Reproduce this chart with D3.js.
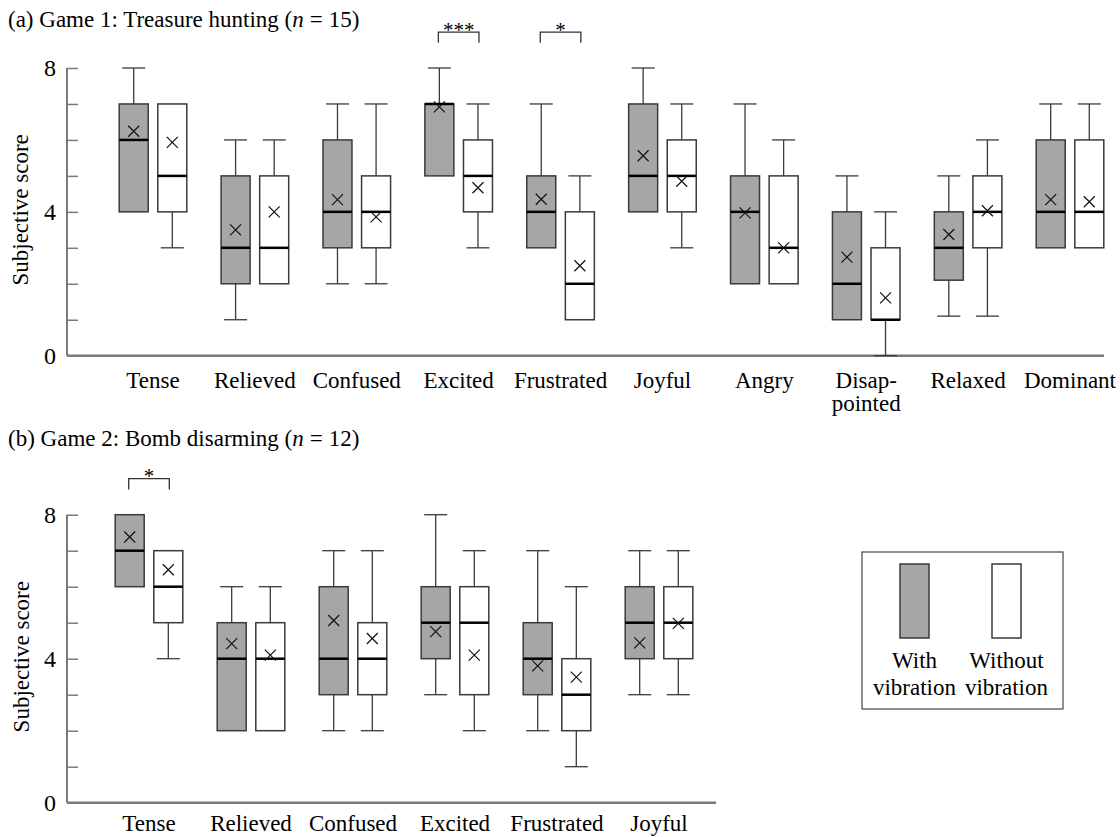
<!DOCTYPE html>
<html>
<head>
<meta charset="utf-8">
<script src="https://cdn.jsdelivr.net/npm/d3@7/dist/d3.min.js"></script>
<style>
  html, body { margin: 0; padding: 0; background: #fff; }
  svg { display: block; }
  text { font-family: "Liberation Serif", "Times New Roman", serif; fill: #000; }
</style>
</head>
<body>
<svg id="chart" width="1120" height="837"></svg>
<script>
// ---------- DATA ----------
const cats1 = ["Tense", "Relieved", "Confused", "Excited", "Frustrated", "Joyful", "Angry", "Disap-\npointed", "Relaxed", "Dominant"];
const g1WithLo   = [4, 1, 2, 5, 3, 4, 2, 1, 1.1, 3];
const g1WithQ1   = [4, 2, 3, 5, 3, 4, 2, 1, 2.1, 3];
const g1WithMed  = [6, 3, 4, 7, 4, 5, 4, 2, 3, 4];
const g1WithQ3   = [7, 5, 6, 7, 5, 7, 5, 4, 4, 6];
const g1WithHi   = [8, 6, 7, 8, 7, 8, 7, 5, 5, 7];
const g1WithMean = [6.24, 3.5, 4.34, 6.92, 4.35, 5.56, 3.97, 2.74, 3.37, 4.34];

const g1WoLo   = [3, 2, 2, 3, 1, 3, 2, 0, 1.1, 3];
const g1WoQ1   = [4, 2, 3, 4, 1, 4, 2, 1, 3, 3];
const g1WoMed  = [5, 3, 4, 5, 2, 5, 3, 1, 4, 4];
const g1WoQ3   = [7, 5, 5, 6, 4, 6, 5, 3, 5, 6];
const g1WoHi   = [7, 6, 7, 7, 5, 7, 6, 4, 6, 7];
const g1WoMean = [5.93, 4.0, 3.86, 4.67, 2.5, 4.85, 3.0, 1.61, 4.03, 4.28];

const cats2 = ["Tense", "Relieved", "Confused", "Excited", "Frustrated", "Joyful"];
const g2WithLo   = [6, 2, 2, 3, 2, 3];
const g2WithQ1   = [6, 2, 3, 4, 3, 4];
const g2WithMed  = [7, 4, 4, 5, 4, 5];
const g2WithQ3   = [8, 5, 6, 6, 5, 6];
const g2WithHi   = [8, 6, 7, 8, 7, 7];
const g2WithMean = [7.38, 4.42, 5.06, 4.75, 3.8, 4.44];

const g2WoLo   = [4, 2, 2, 2, 1, 3];
const g2WoQ1   = [5, 2, 3, 3, 2, 4];
const g2WoMed  = [6, 4, 4, 5, 3, 5];
const g2WoQ3   = [7, 5, 5, 6, 4, 6];
const g2WoHi   = [7, 6, 7, 7, 6, 7];
const g2WoMean = [6.47, 4.1, 4.56, 4.1, 3.49, 4.98];

const sig1 = [{cat: "Excited", label: "***"}, {cat: "Frustrated", label: "*"}];
const sig2 = [{cat: "Tense", label: "*"}];

const yTickValues = [0, 1, 2, 3, 4, 5, 6, 7, 8];
const yTickLabels = [0, 4, 8];
const seriesNames = ["With\nvibration", "Without\nvibration"];

// ---------- STYLE ----------
const FONT = 23;
const withFill = "#a6a6a6";
const woFill = "#ffffff";
const boxStroke = "#3a3a3a";
const axisColor = "#7a7a7a";

const svg = d3.select("#chart");

function build(cols) {
  return cols[0].map((_, i) => ({lo: cols[0][i], q1: cols[1][i], med: cols[2][i], q3: cols[3][i], hi: cols[4][i], mean: cols[5][i]}));
}

function panel(opts) {
  const {cats, withD, woD, sig, xRange, axisRight, yRange, title, titleY, ylabelX, labelOff, starOff} = opts;
  const g = svg.append("g");
  const x = d3.scalePoint().domain(cats).range(xRange);
  const y = d3.scaleLinear().domain([0, 8]).range(yRange);
  const axisLeft = 67;
  const offset = 19.3, bw = 29, capW = 23;

  // title
  const t = g.append("text").attr("x", 8).attr("y", titleY).attr("font-size", FONT);
  const parts = title.split("|");
  t.append("tspan").text(parts[0]);
  t.append("tspan").attr("font-style", "italic").text("n");
  t.append("tspan").attr("dx", 6).text("=");
  t.append("tspan").attr("dx", 6).text(parts[1]);

  // y axis
  const yAxis = d3.axisRight(y).tickValues(yTickValues).tickSize(11).tickFormat("");
  const ya = g.append("g").attr("transform", `translate(${axisLeft},0)`).call(yAxis);
  ya.select(".domain").remove();
  ya.selectAll(".tick line").attr("stroke", axisColor).attr("stroke-width", 1.5);
  g.append("line").attr("x1", axisLeft).attr("x2", axisLeft).attr("y1", y(8)).attr("y2", y(0))
    .attr("stroke", axisColor).attr("stroke-width", 2);
  g.append("line").attr("x1", axisLeft).attr("x2", axisRight).attr("y1", y(0)).attr("y2", y(0))
    .attr("stroke", axisColor).attr("stroke-width", 2.5);
  g.selectAll(".ytl").data(yTickLabels).enter().append("text")
    .attr("x", 56).attr("y", d => y(d)).attr("dy", "0.34em").attr("text-anchor", "end")
    .attr("font-size", 24).text(d => d);

  // y label
  g.append("text").attr("transform", `translate(${ylabelX},${(y(0) + y(8)) / 2 - 2}) rotate(-90)`)
    .attr("text-anchor", "middle").attr("font-size", FONT).text("Subjective score");

  // x labels
  cats.forEach(c => {
    const lines = c.split("\n");
    const tt = g.append("text").attr("x", x(c)).attr("y", y(0) + labelOff).attr("text-anchor", "middle").attr("font-size", FONT);
    lines.forEach((ln, k) => tt.append("tspan").attr("x", x(c)).attr("dy", k === 0 ? 0 : 23.5).text(ln));
  });

  // boxes
  function drawBoxes(data, dx, fill) {
    data.forEach((d, i) => {
      const cx = x(cats[i]) + dx;
      const gg = g.append("g");
      gg.append("line").attr("x1", cx).attr("x2", cx).attr("y1", y(d.hi)).attr("y2", y(d.q3)).attr("stroke", boxStroke).attr("stroke-width", 1.3);
      gg.append("line").attr("x1", cx).attr("x2", cx).attr("y1", y(d.q1)).attr("y2", y(d.lo)).attr("stroke", boxStroke).attr("stroke-width", 1.3);
      if (d.hi > d.q3) gg.append("line").attr("x1", cx - capW / 2).attr("x2", cx + capW / 2).attr("y1", y(d.hi)).attr("y2", y(d.hi)).attr("stroke", boxStroke).attr("stroke-width", 1.3);
      if (d.lo < d.q1) gg.append("line").attr("x1", cx - capW / 2).attr("x2", cx + capW / 2).attr("y1", y(d.lo)).attr("y2", y(d.lo)).attr("stroke", boxStroke).attr("stroke-width", 1.3);
      gg.append("rect").attr("x", cx - bw / 2).attr("width", bw).attr("y", y(d.q3)).attr("height", y(d.q1) - y(d.q3))
        .attr("fill", fill).attr("stroke", boxStroke).attr("stroke-width", 1.5);
      gg.append("line").attr("x1", cx - bw / 2).attr("x2", cx + bw / 2).attr("y1", y(d.med)).attr("y2", y(d.med)).attr("stroke", "#000").attr("stroke-width", 2.5);
      const m = y(d.mean), s = 5.5;
      gg.append("path").attr("d", `M${cx - s},${m - s}L${cx + s},${m + s}M${cx - s},${m + s}L${cx + s},${m - s}`)
        .attr("stroke", "#111").attr("stroke-width", 1.2).attr("fill", "none");
    });
  }
  drawBoxes(withD, -offset, withFill);
  drawBoxes(woD, offset, woFill);

  // significance brackets
  sig.forEach(s => {
    const x1 = x(s.cat) - offset - 1, x2 = x(s.cat) + offset + 1;
    const yt = y(9), yb = y(8.7);
    g.append("path").attr("d", `M${x1},${yb}L${x1},${yt}L${x2},${yt}L${x2},${yb}`)
      .attr("fill", "none").attr("stroke", "#333").attr("stroke-width", 1.3);
    g.append("text").attr("x", (x1 + x2) / 2).attr("y", yt + starOff).attr("text-anchor", "middle")
      .attr("font-size", 21).attr("fill", "#333").text(s.label);
  });
  return {x, y};
}

panel({
  cats: cats1,
  withD: build([g1WithLo, g1WithQ1, g1WithMed, g1WithQ3, g1WithHi, g1WithMean]),
  woD: build([g1WoLo, g1WoQ1, g1WoMed, g1WoQ3, g1WoHi, g1WoMean]),
  sig: sig1,
  xRange: [153, 1070], axisRight: 1104, yRange: [355.7, 68],
  title: "(a) Game 1: Treasure hunting (|15)", titleY: 27, ylabelX: 28, labelOff: 32, starOff: 5
});

panel({
  cats: cats2,
  withD: build([g2WithLo, g2WithQ1, g2WithMed, g2WithQ3, g2WithHi, g2WithMean]),
  woD: build([g2WoLo, g2WoQ1, g2WoMed, g2WoQ3, g2WoHi, g2WoMean]),
  sig: sig2,
  xRange: [149, 659], axisRight: 716, yRange: [802.7, 514.7],
  title: "(b) Game 2: Bomb disarming (|12)", titleY: 446, ylabelX: 29, labelOff: 28.5, starOff: 4
});

// legend
const lg = svg.append("g");
lg.append("rect").attr("x", 862).attr("y", 552).attr("width", 201).attr("height", 157)
  .attr("fill", "#fff").attr("stroke", "#444").attr("stroke-width", 1.2);
const lx = d3.scalePoint().domain(seriesNames).range([914.5, 1006.5]);
[withFill, woFill].forEach((f, i) => {
  const cx = lx(seriesNames[i]);
  lg.append("rect").attr("x", cx - 14.5).attr("y", 564).attr("width", 29).attr("height", 74)
    .attr("fill", f).attr("stroke", boxStroke).attr("stroke-width", 1.5);
  const tt = lg.append("text").attr("x", cx).attr("y", 668).attr("text-anchor", "middle").attr("font-size", FONT);
  seriesNames[i].split("\n").forEach((ln, k) => tt.append("tspan").attr("x", cx).attr("dy", k === 0 ? 0 : 27).text(ln));
});
</script>
</body>
</html>
